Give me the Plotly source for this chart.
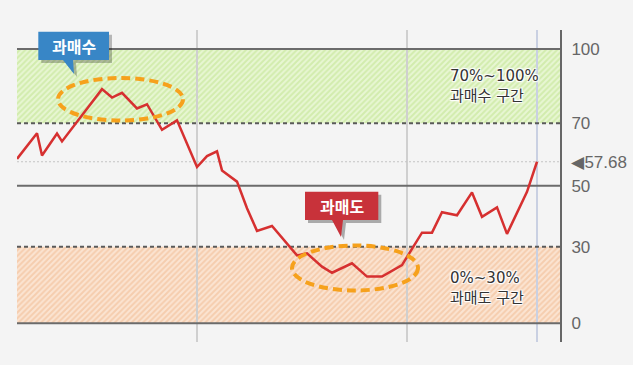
import numpy as np
import plotly.graph_objects as go

# ---------------- data ----------------
days = [0, 4, 5, 8, 9, 17, 19, 21, 24, 26, 29, 32, 36, 38, 40, 41, 44, 46, 48, 51,
        56, 58, 61, 63, 67, 70, 73, 77, 81, 83, 85, 88, 91, 93, 96, 98, 102, 104]
values = [58.6, 66.8, 59.7, 66.7, 64.2, 83.8, 80.4, 82.3, 76.0, 77.7, 67.9, 71.2,
          56.0, 59.5, 61.0, 54.9, 51.3, 42.6, 35.2, 36.8, 26.6, 27.4, 22.2, 19.8,
          23.5, 18.3, 18.3, 22.8, 34.6, 34.6, 41.3, 40.3, 47.8, 39.8, 42.9, 34.2,
          48.0, 57.68]
tick_values = [0, 30, 50, 70, 100]
tick_labels = ["0", "30", "50", "70", "100"]
current_value = 57.68
current_label = "◀57.68"
divider_days = [36, 78]
last_day = 104
over_band = [70, 100]
under_band = [0, 30]
over_label = "70%~100%<br>과매수 구간"
under_label = "0%~30%<br>과매도 구간"
over_tag = "과매수"
under_tag = "과매도"

# ---------------- piecewise axis scale ----------------
SCALE_POS = [0, 76.6, 137.6, 200, 274.3]


def ty(v):
    return np.interp(v, tick_values, SCALE_POS)


X_RANGE = [0, 108.6]
Y_RANGE = [-18.7, 293.3]

# plot area in pixels (for decorations in paper coords)
L, R, T, B = 17, 560, 30, 342


def px(x):
    return (x - L) / (R - L)


def py(y):
    return (B - y) / (B - T)


fig = go.Figure()

# hatched bands
def band(lo, hi, bg, fg):
    x0, x1 = X_RANGE
    fig.add_trace(go.Scatter(
        x=[x0, x1, x1, x0, x0], y=[ty(lo), ty(lo), ty(hi), ty(hi), ty(lo)],
        mode="lines", line=dict(width=0), fill="toself", fillcolor=bg,
        fillpattern=dict(shape="/", bgcolor=bg, fgcolor=fg, size=4, solidity=0.5),
        hoverinfo="skip", showlegend=False))


band(*over_band, "#e8f6d3", "#bce288")
band(*under_band, "#fbe4d2", "#f0b68a")

# vertical dividers
for d in divider_days:
    fig.add_trace(go.Scatter(x=[d, d], y=Y_RANGE, mode="lines",
                             line=dict(color="#cfcfcf", width=2),
                             hoverinfo="skip", showlegend=False))
fig.add_trace(go.Scatter(x=[last_day, last_day], y=Y_RANGE, mode="lines",
                         line=dict(color="#c9d0e2", width=2),
                         hoverinfo="skip", showlegend=False))

# horizontal level lines
def hline(v, color, width, dash):
    fig.add_trace(go.Scatter(x=X_RANGE, y=[ty(v), ty(v)], mode="lines",
                             line=dict(color=color, width=width, dash=dash),
                             hoverinfo="skip", showlegend=False))


hline(current_value, "#c4c4c4", 1, "2px,2px")
hline(100, "#6b6b6b", 2, "solid")
hline(50, "#6b6b6b", 2, "solid")
hline(0, "#6b6b6b", 2, "solid")
hline(70, "#5a5a5a", 2, "4px,3px")
hline(30, "#5a5a5a", 2, "4px,3px")

# main line
fig.add_trace(go.Scatter(x=days, y=ty(np.array(values)), mode="lines",
                         line=dict(color="#d63030", width=2.5),
                         hoverinfo="skip", showlegend=False))

shapes = []
# dashed ellipses
for (x0, y0, x1, y1) in [(58, 78, 183, 120.5), (292, 245.5, 418, 290.5)]:
    shapes.append(dict(type="circle", xref="paper", yref="paper",
                       x0=px(x0), x1=px(x1), y0=py(y1), y1=py(y0),
                       line=dict(color="#f6a11c", width=4, dash="9px,5px"),
                       layer="above"))


def callout(box, base, tip, color, shadow=False, off=3):
    (bx0, by0, bx1, by1) = box
    pts = [(bx0, by0), (bx1, by0), (bx1, by1), (base[1], by1), tip, (base[0], by1), (bx0, by1)]
    if shadow:
        pts = [(x + off, y + off) for x, y in pts]
    path = "M " + " L ".join(f"{px(x):.5f},{py(y):.5f}" for x, y in pts) + " Z"
    return dict(type="path", xref="paper", yref="paper", path=path,
                fillcolor=color, line=dict(width=0), layer="above")


blue_box = (38.3, 31.7, 109, 60)
red_box = (305, 191.7, 378.3, 220)
shapes.append(callout(blue_box, (63, 73), (74, 74), "rgba(0,0,0,0.25)", shadow=True))
shapes.append(callout(blue_box, (63, 73), (74, 74), "#3886c6"))
shapes.append(callout(red_box, (332, 343), (341, 237), "rgba(0,0,0,0.3)", shadow=True))
shapes.append(callout(red_box, (332, 343), (341, 237), "#c8323a"))

halo = ("1px 1px 1px #fff, -1px -1px 1px #fff, 1px -1px 1px #fff, "
        "-1px 1px 1px #fff, 0 0 3px #fff")
annotations = [
    dict(x=px(448), y=py(86), xref="paper", yref="paper", text=over_label,
         showarrow=False, xanchor="left", yanchor="middle", align="left",
         font=dict(family="DejaVu Sans, Noto Sans CJK KR", size=15, color="#333",
                   shadow=halo)),
    dict(x=px(448), y=py(287.5), xref="paper", yref="paper", text=under_label,
         showarrow=False, xanchor="left", yanchor="middle", align="left",
         font=dict(family="DejaVu Sans, Noto Sans CJK KR", size=15, color="#333",
                   shadow=halo)),
    dict(x=px((blue_box[0] + blue_box[2]) / 2), y=py(46), xref="paper", yref="paper",
         text=over_tag, showarrow=False, xanchor="center", yanchor="middle",
         font=dict(family="Noto Sans CJK KR", size=16, color="white", weight="bold")),
    dict(x=px((red_box[0] + red_box[2]) / 2), y=py(206), xref="paper", yref="paper",
         text=under_tag, showarrow=False, xanchor="center", yanchor="middle",
         font=dict(family="Noto Sans CJK KR", size=16, color="white", weight="bold")),
]

fig.update_layout(
    width=633, height=365,
    margin=dict(l=L, r=633 - R, t=T, b=365 - B, pad=0, autoexpand=False),
    paper_bgcolor="#f4f4f4", plot_bgcolor="#f4f4f4",
    showlegend=False,
    shapes=shapes, annotations=annotations,
    xaxis=dict(range=X_RANGE, visible=False, fixedrange=True, automargin=False),
    yaxis=dict(range=Y_RANGE, side="right", showgrid=False, zeroline=False,
               showline=True, linecolor="#666", linewidth=2, automargin=False,
               tickvals=list(ty(np.array(tick_values + [current_value]))),
               ticktext=tick_labels + [current_label],
               ticks="", ticklabelstandoff=6,
               tickfont=dict(family="Liberation Sans", size=17, color="#666"),
               fixedrange=True),
)

fig.write_html(
    "out.html",
    config={"displayModeBar": False},
    post_script="document.body.style.margin='0';document.body.style.background='#f4f4f4';",
)
